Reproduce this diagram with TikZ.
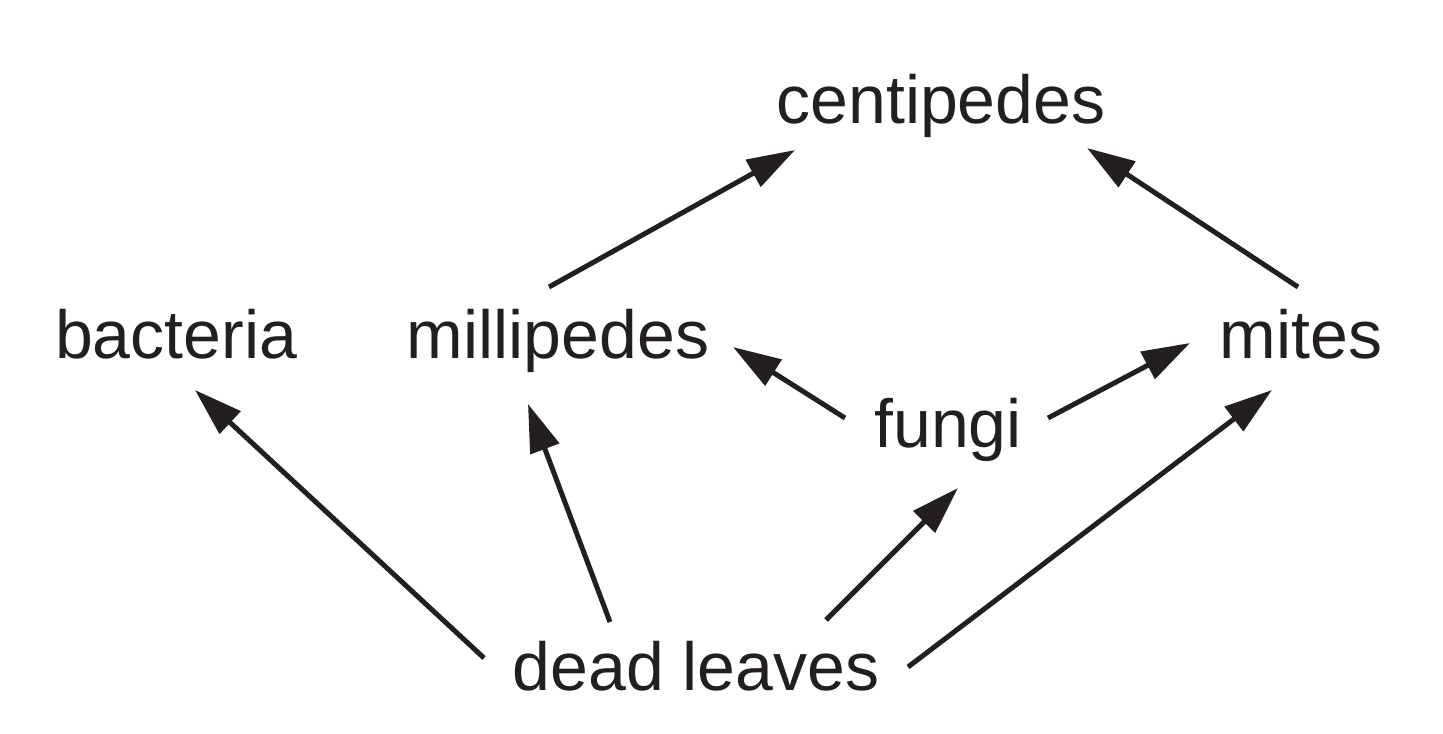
\documentclass[tikz,border=0pt]{standalone}
\usepackage{fontspec}
\setmainfont{Liberation Sans}
\usetikzlibrary{arrows.meta}
\definecolor{ink}{HTML}{231F20}
\begin{document}
\begin{tikzpicture}[x=0.5pt,y=-0.5pt,
  lbl/.style={anchor=base,inner sep=0pt,text=ink,font=\fontsize{34}{40}\selectfont},
  arr/.style={draw=ink,line width=2.5pt,-{Triangle[length=24pt,width=15pt]}}]
\useasboundingbox (0,0) rectangle (1443,733);
\node[lbl] (cent) at (941,123) {centipedes};
\node[lbl] (bact) at (176,358) {bacteria};
\node[lbl] (mill) at (558,358) {millipedes};
\node[lbl] (mites) at (1301,358) {mites};
\node[lbl] (fungi) at (948,447) {fungi};
\node[lbl] (dl) at (696,690) {dead leaves};
\draw[arr] ([shift={(-9,-71)}]mill.base) -- ([shift={(-146,27)}]cent.base);
\draw[arr] ([shift={(-3,-71)}]mites.base) -- ([shift={(146,25)}]cent.base);
\draw[arr] ([shift={(-103,-29)}]fungi.base) -- ([shift={(175,-11)}]mill.base);
\draw[arr] ([shift={(100,-29)}]fungi.base) -- ([shift={(-111,-15)}]mites.base);
\draw[arr] ([shift={(-212,-32)}]dl.base) -- ([shift={(19,32)}]bact.base);
\draw[arr] ([shift={(-86,-68)}]dl.base) -- ([shift={(-30,46)}]mill.base);
\draw[arr] ([shift={(130,-70)}]dl.base) -- ([shift={(10,41)}]fungi.base);
\draw[arr] ([shift={(212,-23)}]dl.base) -- ([shift={(-29,32)}]mites.base);
\end{tikzpicture}
\end{document}
